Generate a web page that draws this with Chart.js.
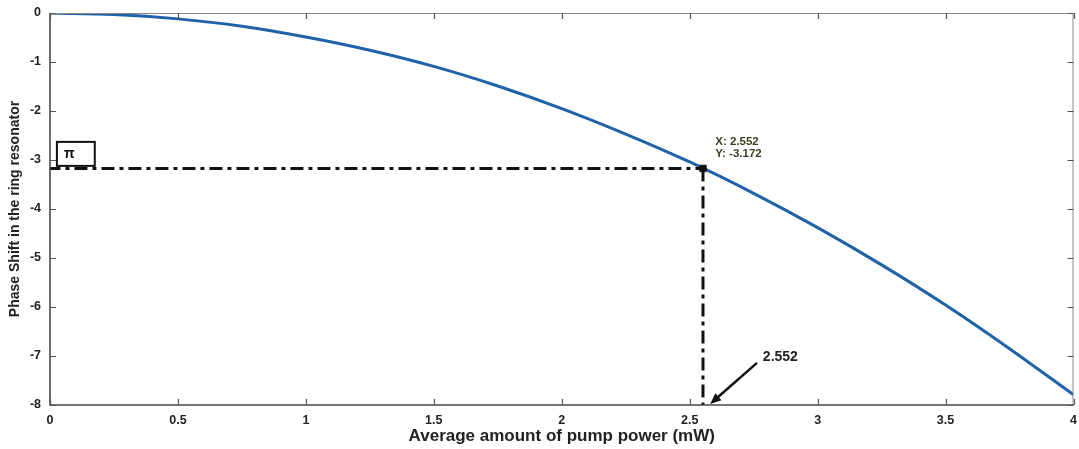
<!DOCTYPE html>
<html>
<head>
<meta charset="utf-8">
<script src="https://cdn.jsdelivr.net/npm/chart.js@4/dist/chart.umd.min.js"></script>
<style>
    html, body { margin: 0; padding: 0; background: #fff; }
    #wrap { width: 1079px; height: 449px; }
</style>
</head>
<body>
<div id="wrap"><canvas id="chart" width="1079" height="449"></canvas></div>
<script>
// Values
const powerValues = [0, 0.25, 0.5, 0.75, 1, 1.25, 1.5, 1.75, 2, 2.25, 2.5, 2.75, 3, 3.25, 3.5, 3.75, 4];
const phaseValues = [0, -0.03, -0.12, -0.27, -0.49, -0.76, -1.09, -1.49, -1.95, -2.47, -3.04, -3.68, -4.38, -5.14, -5.96, -6.85, -7.79];
const markX = 2.552;
const markY = -3.172;
const xTicks = [0, 0.5, 1, 1.5, 2, 2.5, 3, 3.5, 4];
const yTicks = [0, -1, -2, -3, -4, -5, -6, -7, -8];

const curve = powerValues.map((x, i) => ({ x: x, y: phaseValues[i] }));
const dashDot = [13, 5, 4, 5];
const boldFont = '"Liberation Sans", Arial, sans-serif';

// Axis box, inward ticks and the text notes
const notesPlugin = {
    id: 'notes',
    afterDatasetsDraw(chart) {
        const { ctx, chartArea: a, scales: { x, y } } = chart;
        ctx.save();

        // box
        ctx.strokeStyle = '#8a8a8a';
        ctx.lineWidth = 1;
        ctx.beginPath();
        ctx.moveTo(a.left, a.top + 0.5);
        ctx.lineTo(a.right - 0.5, a.top + 0.5);
        ctx.lineTo(a.right - 0.5, a.bottom);
        ctx.stroke();
        ctx.strokeStyle = '#4a4a4a';
        ctx.lineWidth = 1.6;
        ctx.beginPath();
        ctx.moveTo(a.left, a.top);
        ctx.lineTo(a.left, a.bottom);
        ctx.lineTo(a.right, a.bottom);
        ctx.stroke();

        // ticks
        ctx.lineWidth = 1.2;
        ctx.strokeStyle = '#555';
        xTicks.forEach(v => {
            const px = Math.round(x.getPixelForValue(v)) + 0.5;
            ctx.beginPath();
            ctx.moveTo(px, a.bottom); ctx.lineTo(px, a.bottom - 6);
            ctx.moveTo(px, a.top); ctx.lineTo(px, a.top + 6);
            ctx.stroke();
        });
        yTicks.forEach(v => {
            const py = Math.round(y.getPixelForValue(v)) + 0.5;
            ctx.beginPath();
            ctx.moveTo(a.left, py); ctx.lineTo(a.left + 6, py);
            ctx.moveTo(a.right, py); ctx.lineTo(a.right - 6, py);
            ctx.stroke();
        });

        // y axis title
        ctx.fillStyle = '#222';
        ctx.font = 'bold 14px ' + boldFont;
        ctx.textAlign = 'center';
        ctx.textBaseline = 'middle';
        ctx.translate(15, (a.top + a.bottom) / 2);
        ctx.rotate(-Math.PI / 2);
        ctx.fillText('Phase Shift in the ring resonator', 0, 0);
        ctx.setTransform(1, 0, 0, 1, 0, 0);

        // pi box
        const bx0 = x.getPixelForValue(0.027), bx1 = x.getPixelForValue(0.175);
        const by0 = y.getPixelForValue(-2.63), by1 = y.getPixelForValue(-3.12);
        ctx.strokeStyle = '#111';
        ctx.lineWidth = 2;
        ctx.strokeRect(bx0, by0, bx1 - bx0, by1 - by0);
        ctx.fillStyle = '#111';
        ctx.font = 'bold 14px ' + boldFont;
        ctx.textAlign = 'left';
        ctx.fillText('π', bx0 + 7, (by0 + by1) / 2);

        // data tip
        ctx.fillStyle = '#3e3e22';
        ctx.font = 'bold 11.5px ' + boldFont;
        const tx = x.getPixelForValue(2.6);
        ctx.fillText('X: 2.552', tx, y.getPixelForValue(-2.62));
        ctx.fillText('Y: -3.172', tx, y.getPixelForValue(-2.88));

        // arrow to the x value
        const ax0 = x.getPixelForValue(2.763), ay0 = y.getPixelForValue(-7.14);
        const ax1 = x.getPixelForValue(2.58), ay1 = y.getPixelForValue(-7.98);
        const ang = Math.atan2(ay1 - ay0, ax1 - ax0);
        ctx.strokeStyle = '#111';
        ctx.lineWidth = 2.5;
        ctx.beginPath();
        ctx.moveTo(ax0, ay0);
        ctx.lineTo(ax1 - 6 * Math.cos(ang), ay1 - 6 * Math.sin(ang));
        ctx.stroke();
        ctx.fillStyle = '#111';
        ctx.beginPath();
        ctx.moveTo(ax1, ay1);
        ctx.lineTo(ax1 - 12 * Math.cos(ang - 0.4), ay1 - 12 * Math.sin(ang - 0.4));
        ctx.lineTo(ax1 - 12 * Math.cos(ang + 0.4), ay1 - 12 * Math.sin(ang + 0.4));
        ctx.closePath();
        ctx.fill();
        ctx.font = 'bold 14px ' + boldFont;
        ctx.fillStyle = '#222';
        ctx.fillText('2.552', x.getPixelForValue(2.786), y.getPixelForValue(-7.02));

        ctx.restore();
    }
};

const ctx = document.getElementById('chart').getContext('2d');
const chart = new Chart(ctx, {
    type: 'scatter',
    data: {
        datasets: [
            {
                label: 'phase',
                data: curve,
                showLine: true,
                borderColor: '#1f62a8',
                borderWidth: 3,
                pointRadius: 0,
                cubicInterpolationMode: 'monotone',
                order: 3
            },
            {
                label: 'guide h',
                data: [{ x: -0.01, y: markY }, { x: markX, y: markY }],
                showLine: true,
                borderColor: '#111',
                borderWidth: 3,
                borderDash: dashDot,
                pointRadius: 0,
                order: 2
            },
            {
                label: 'guide v',
                data: [{ x: markX, y: markY }, { x: markX, y: -8 }],
                showLine: true,
                borderColor: '#111',
                borderWidth: 3,
                borderDash: dashDot,
                pointRadius: 0,
                order: 2
            },
            {
                label: 'mark',
                data: [{ x: markX, y: markY }],
                pointStyle: 'rect',
                pointRadius: 4.5,
                backgroundColor: '#111',
                borderColor: '#111',
                order: 1
            }
        ]
    },
    options: {
        responsive: false,
        animation: false,
        events: [],
        layout: { padding: { left: 0, right: 1, top: 13, bottom: 0 } },
        plugins: {
            legend: { display: false },
            tooltip: { enabled: false }
        },
        scales: {
            x: {
                type: 'linear',
                min: 0,
                max: 4,
                grid: { display: false, drawTicks: false },
                border: { display: false },
                ticks: {
                    stepSize: 0.5,
                    padding: 8,
                    color: '#222',
                    font: { family: boldFont, size: 12.5, weight: 'bold' },
                    callback: v => String(v)
                },
                title: {
                    display: true,
                    text: 'Average amount of pump power (mW)',
                    color: '#222',
                    font: { family: boldFont, size: 17, weight: 'bold' },
                    padding: { top: 0, bottom: 2 }
                },
                afterFit(scale) {
                    scale.height = 44;
                    scale.paddingLeft = 0;
                    scale.paddingRight = 0;
                }
            },
            y: {
                type: 'linear',
                min: -8,
                max: 0,
                grid: { display: false, drawTicks: false },
                border: { display: false },
                ticks: {
                    stepSize: 1,
                    padding: 9,
                    color: '#222',
                    font: { family: boldFont, size: 12.5, weight: 'bold' },
                    callback: v => String(v)
                },
                afterFit(scale) {
                    scale.width = 50;
                    scale.paddingTop = 0;
                    scale.paddingBottom = 0;
                }
            }
        }
    },
    plugins: [notesPlugin]
});
</script>
</body>
</html>
